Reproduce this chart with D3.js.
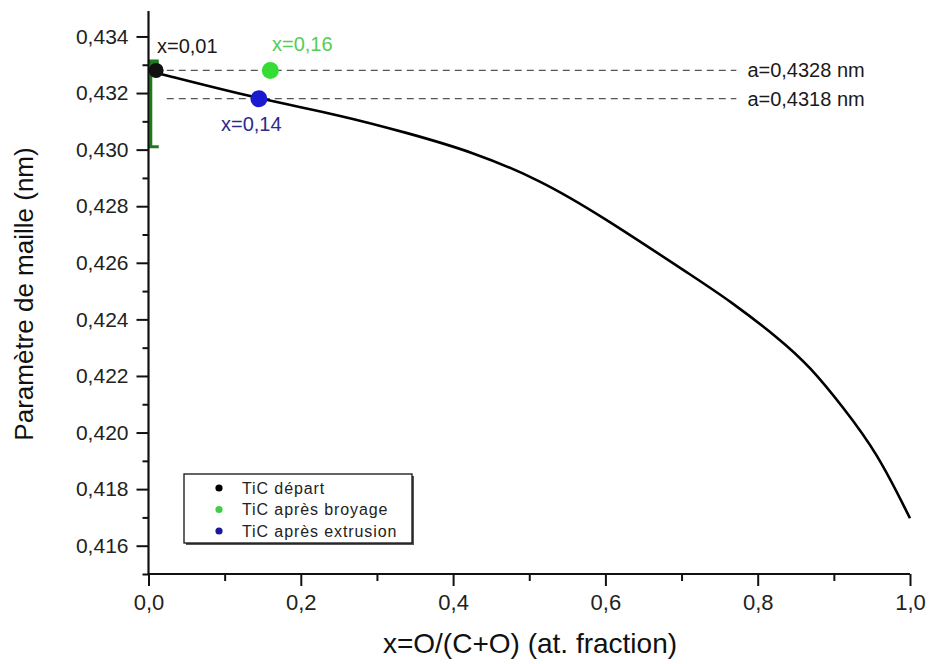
<!DOCTYPE html>
<html>
<head>
<meta charset="utf-8">
<script src="https://cdn.jsdelivr.net/npm/d3@7"></script>
<style>
  html, body { margin: 0; padding: 0; background: #fff; }
  svg { display: block; font-family: "Liberation Sans", Arial, sans-serif; }
</style>
</head>
<body>
<svg id="chart" width="930" height="664"></svg>
<script>
// ---- data ----
const curveX = [0, 0.011, 0.145, 0.252, 0.340, 0.426, 0.514, 0.593, 0.724, 0.760, 0.829, 0.869, 0.912, 0.957, 1.0];
const curveY = [0.43278, 0.43271, 0.43179, 0.43122, 0.43059, 0.42992, 0.42893, 0.42769, 0.42536, 0.42472, 0.42331, 0.42232, 0.42090, 0.41928, 0.41697];

const pointNames = ["TiC départ", "TiC après broyage", "TiC après extrusion"];
const pointX = [0.01, 0.16, 0.145];
const pointY = [0.4328, 0.4328, 0.4318];
const pointColors = ["#111111", "#33dd33", "#1a1ad0"];
const legendColors = ["#000000", "#44cc44", "#1a1a99"];
const pointLabels = ["x=0,01", "x=0,16", "x=0,14"];
const pointLabelColors = ["#1a1a1a", "#55cc55", "#2b2b8c"];

const errX = [0.003];
const errLow = [0.4301];
const errHigh = [0.4331];

const refValues = [0.4328, 0.4318];
const refLabels = ["a=0,4328 nm", "a=0,4318 nm"];
const refStart = 0.024;
const refEnd = 0.772;

const xMajorTicks = [0, 0.2, 0.4, 0.6, 0.8, 1.0];
const xMinorTicks = [0.1, 0.3, 0.5, 0.7, 0.9];
const yMajorTicks = [0.416, 0.418, 0.420, 0.422, 0.424, 0.426, 0.428, 0.430, 0.432, 0.434];
const yMinorTicks = [0.415, 0.417, 0.419, 0.421, 0.423, 0.425, 0.427, 0.429, 0.431, 0.433];

const xTitle = "x=O/(C+O) (at. fraction)";
const yTitle = "Paramètre de maille (nm)";

// ---- layout ----
const svg = d3.select("#chart");
const pL = 148.5, pR = 910, pT = 11, pB = 574;
const x = d3.scaleLinear().domain([0, 1]).range([pL, pR]);
const y = d3.scaleLinear().domain([0.415, 0.4349]).range([pB, pT]);

const fmtX = d => d3.format(".1f")(d).replace(".", ",");
const fmtY = d => d3.format(".3f")(d).replace(".", ",");

svg.append("defs").append("clipPath").attr("id", "plotclip")
  .append("rect").attr("x", pL).attr("y", 0).attr("width", pR - pL + 20).attr("height", pB);

// reference dashed lines
refValues.forEach((v, i) => {
  svg.append("line")
    .attr("x1", x(refStart)).attr("x2", x(refEnd))
    .attr("y1", y(v)).attr("y2", y(v))
    .attr("stroke", "#555").attr("stroke-width", 1.3)
    .attr("stroke-dasharray", "7,5");
  svg.append("text")
    .attr("x", x(refEnd) + 11).attr("y", y(v) + 7)
    .attr("font-size", 20).attr("fill", "#1a1a1a")
    .text(refLabels[i]);
});

// curve
const line = d3.line().x(d => x(d[0])).y(d => y(d[1])).curve(d3.curveBasis);
svg.append("path")
  .datum(curveX.map((v, i) => [v, curveY[i]]))
  .attr("d", line)
  .attr("fill", "none").attr("stroke", "#000").attr("stroke-width", 2.6);

// error bar
const eg = svg.append("g").attr("clip-path", "url(#plotclip)");
errX.forEach((v, i) => {
  eg.append("line").attr("x1", x(v)).attr("x2", x(v))
    .attr("y1", y(errLow[i])).attr("y2", y(errHigh[i]))
    .attr("stroke", "#1f7a1f").attr("stroke-width", 3);
  [errLow[i], errHigh[i]].forEach((e, k) => {
    eg.append("line").attr("x1", x(v) - 8).attr("x2", x(v) + 8)
      .attr("y1", y(e)).attr("y2", y(e))
      .attr("stroke", "#1f7a1f").attr("stroke-width", k === 1 ? 5 : 3);
  });
});

// points
pointX.forEach((v, i) => {
  svg.append("circle").attr("cx", x(v)).attr("cy", y(pointY[i]))
    .attr("r", i === 0 ? 7.5 : 8.5).attr("fill", pointColors[i]);
});

// point labels
const labelPos = [[157, 53], [272, 51], [221, 131]];
pointLabels.forEach((t, i) => {
  svg.append("text").attr("x", labelPos[i][0]).attr("y", labelPos[i][1])
    .attr("font-size", 20).attr("fill", pointLabelColors[i]).text(t);
});

// axes
const xAxis = svg.append("g").attr("transform", `translate(0,${pB})`)
  .call(d3.axisBottom(x).tickValues(xMajorTicks).tickFormat(fmtX).tickSize(12).tickPadding(8));
svg.append("g").attr("transform", `translate(0,${pB})`)
  .call(d3.axisBottom(x).tickValues(xMinorTicks).tickFormat("").tickSize(7))
  .select(".domain").remove();
const yAxis = svg.append("g").attr("transform", `translate(${pL},0)`)
  .call(d3.axisLeft(y).tickValues(yMajorTicks).tickFormat(fmtY).tickSize(12).tickPadding(8));
svg.append("g").attr("transform", `translate(${pL},0)`)
  .call(d3.axisLeft(y).tickValues(yMinorTicks).tickFormat("").tickSize(6))
  .select(".domain").remove();

svg.selectAll(".domain").attr("stroke", "#111").attr("stroke-width", 2.2);
svg.selectAll(".tick line").attr("stroke", "#111").attr("stroke-width", 2);
xAxis.selectAll(".domain").attr("d", `M${pL},0H${pR}`);
yAxis.selectAll(".domain").attr("d", `M0,${pT}V${pB}`);
xAxis.selectAll("text").attr("font-size", 22).attr("fill", "#222").attr("font-family", "Liberation Sans, Arial, sans-serif");
yAxis.selectAll("text").attr("font-size", 21).attr("fill", "#222").attr("font-family", "Liberation Sans, Arial, sans-serif");

// titles
svg.append("text").attr("x", 530).attr("y", 653).attr("text-anchor", "middle")
  .attr("font-size", 28).attr("fill", "#111").text(xTitle);
svg.append("text").attr("transform", "translate(33,294) rotate(-90)")
  .attr("text-anchor", "middle").attr("font-size", 26).attr("fill", "#111").text(yTitle);

// legend
const lg = svg.append("g");
lg.append("rect").attr("x", 186).attr("y", 476).attr("width", 228).attr("height", 69).attr("fill", "#555");
lg.append("rect").attr("x", 184).attr("y", 474).attr("width", 228).attr("height", 69)
  .attr("fill", "#fff").attr("stroke", "#111").attr("stroke-width", 1.3);
pointNames.forEach((n, i) => {
  const cy = 488 + i * 21.5;
  lg.append("circle").attr("cx", 219).attr("cy", cy).attr("r", 3.6).attr("fill", legendColors[i]);
  lg.append("text").attr("x", 242).attr("y", cy + 5.5).attr("font-size", 16)
    .attr("letter-spacing", 0.9).attr("fill", "#222").text(n);
});
</script>
</body>
</html>
